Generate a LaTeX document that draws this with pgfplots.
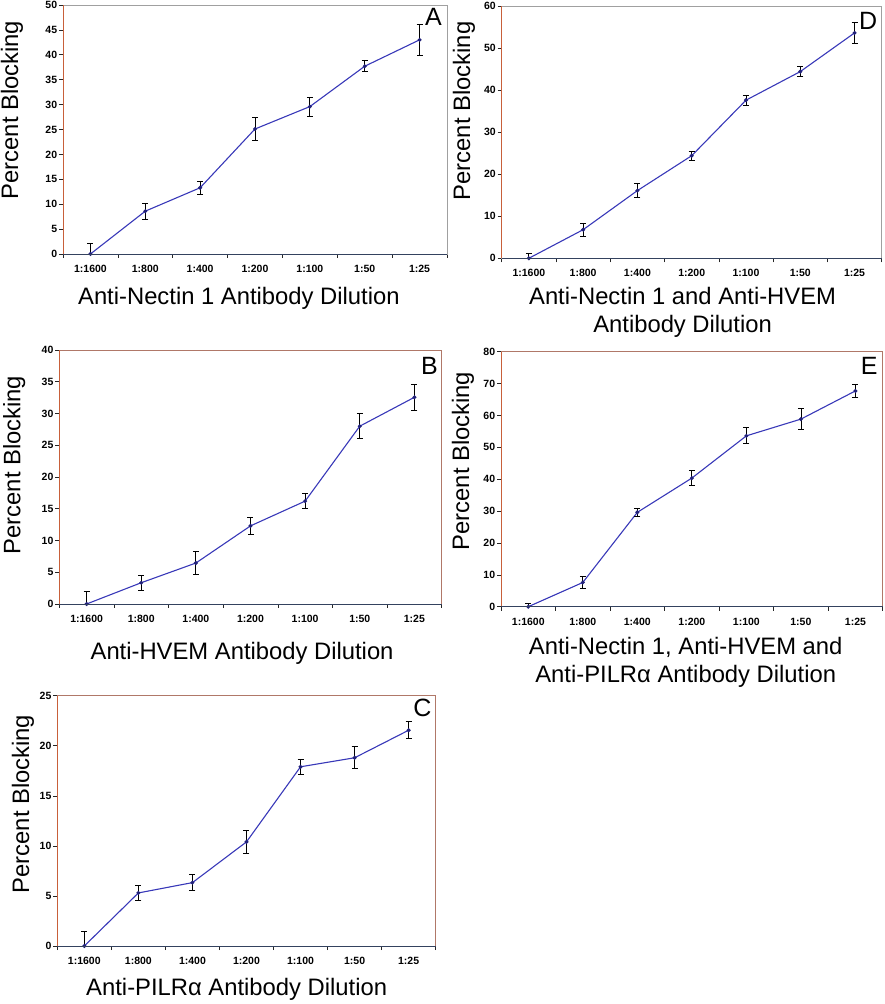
\documentclass[border=0pt]{standalone}
\usepackage{fontspec}
\setmainfont{Liberation Sans}
\usepackage{pgfplots}
\usepackage{pgfplotstable}
\pgfplotsset{compat=1.18}
\definecolor{linecol}{HTML}{3838B8}
\definecolor{markcol}{HTML}{22227A}
\definecolor{leftspine}{HTML}{C8603A}
\definecolor{botspine}{HTML}{34425E}
\definecolor{graybox}{HTML}{A0A0A0}
\definecolor{redbox}{HTML}{B07868}

\pgfplotstableread{
x y e
0 0 2.2
1 8.6 1.65
2 13.3 1.3
3 25.1 2.35
4 29.6 1.9
5 37.7 1.1
6 43.0 3.05
}\dataA
\pgfplotstableread{
x y e
0 0 1.2
1 6.8 1.55
2 16.1 1.7
3 24.4 1.1
4 37.6 1.15
5 44.4 1.2
6 53.6 2.5
}\dataD
\pgfplotstableread{
x y e
0 0 1.95
1 3.35 1.15
2 6.45 1.85
3 12.3 1.4
4 16.2 1.2
5 28.0 2.0
6 32.55 2.0
}\dataB
\pgfplotstableread{
x y e
0 0 1.05
1 7.6 2.0
2 29.6 1.2
3 40.35 2.35
4 53.6 2.5
5 58.85 3.25
6 67.7 2.0
}\dataE
\pgfplotstableread{
x y e
0 0 1.5
1 5.3 0.77
2 6.33 0.8
3 10.4 1.17
4 17.9 0.73
5 18.8 1.1
6 21.55 0.85
}\dataC

\tikzset{letter/.style={anchor=north east, inner sep=0pt, font=\fontsize{25}{25}\selectfont}}
\pgfplotsset{
  panel/.style={
    scale only axis, anchor=south west,
    xmin=-0.5, xmax=6.5, ymin=0,
    xtick={-0.5,0.5,...,6.5}, xticklabels={},
    extra x ticks={0,1,2,3,4,5,6},
    extra x tick labels={1:1600,1:800,1:400,1:200,1:100,1:50,1:25},
    extra x tick style={major tick length=0pt},
    tick align=outside, tick pos=left, major tick length=4pt,
    tick style={color=black!85, line width=0.6pt},
    /pgf/number format/assume math mode=true,
    ticklabel style={font=\bfseries\fontsize{10.5}{12}\selectfont, inner sep=0pt},
    xticklabel style={anchor=north, yshift=-11pt},
    yticklabel style={anchor=east, xshift=-1.7pt},
    xlabel style={anchor=north, inner sep=0pt, align=center,
      font=\fontsize{23.8}{28}\selectfont},
    ylabel style={anchor=center, inner sep=0pt,
      font=\fontsize{23.8}{28}\selectfont},
    ylabel={Percent Blocking},
    axis line style={line width=0.7pt},
    after end axis/.code={
      \draw[leftspine, line width=0.9pt] (rel axis cs:0,0) -- (rel axis cs:0,1);
      \draw[botspine, line width=0.9pt] (rel axis cs:0,0) -- (rel axis cs:1,0);
    },
  },
  series/.style={color=linecol, line width=1.1pt, mark=*, mark size=1.4pt,
    mark options={fill=markcol, draw=markcol},
    error bars/.cd, y dir=both, y explicit,
    error bar style={black, line width=0.8pt},
    error mark options={rotate=90, black, mark size=3pt, line width=0.8pt}},
}

\begin{document}
\begin{tikzpicture}
\useasboundingbox (0,0) rectangle (885pt,1004pt);

% Panel A
\begin{axis}[panel, at={(63pt,750pt)}, width=384pt, height=249pt,
  ymax=50, ytick={0,5,...,50}, axis line style={graybox},
  xlabel={Anti-Nectin 1 Antibody Dilution},
  xlabel style={at={(axis description cs:0.458,0)}, yshift=-33pt},
  ylabel style={at={(axis description cs:-0.133,0.578)}}]
\addplot[series] table[x=x, y=y, y error=e] {\dataA};
\node[letter] at (rel axis cs:1,1) [xshift=-5pt, yshift=-3pt] {A};
\end{axis}

% Panel D
\begin{axis}[panel, at={(501.7pt,745.7pt)}, width=380pt, height=252.3pt,
  ymax=60, ytick={0,10,...,60}, axis line style={graybox},
  xlabel={Anti-Nectin 1 and Anti-HVEM\\Antibody Dilution},
  xlabel style={at={(axis description cs:0.476,0)}, yshift=-29pt},
  ylabel style={at={(axis description cs:-0.099,0.584)}}]
\addplot[series] table[x=x, y=y, y error=e] {\dataD};
\node[letter] at (rel axis cs:1,1) [xshift=-4.4pt, yshift=-5.7pt] {D};
\end{axis}

% Panel B
\begin{axis}[panel, at={(59.3pt,400pt)}, width=382.4pt, height=254pt,
  ymax=40, ytick={0,5,...,40}, axis line style={redbox},
  xlabel={Anti-HVEM Antibody Dilution},
  xlabel style={at={(axis description cs:0.478,0)}, yshift=-38pt},
  ylabel style={at={(axis description cs:-0.118,0.547)}}]
\addplot[series] table[x=x, y=y, y error=e] {\dataB};
\node[letter] at (rel axis cs:1,1) [xshift=-3.7pt, yshift=-6.7pt] {B};
\end{axis}

% Panel E
\begin{axis}[panel, at={(501pt,397.3pt)}, width=381.7pt, height=255pt,
  ymax=80, ytick={0,10,...,80}, axis line style={redbox},
  xlabel={Anti-Nectin 1, Anti-HVEM and\\Anti-PILRα Antibody Dilution},
  xlabel style={at={(axis description cs:0.484,0)}, yshift=-30pt},
  ylabel style={at={(axis description cs:-0.0996,0.571)}}]
\addplot[series] table[x=x, y=y, y error=e] {\dataE};
\node[letter] at (rel axis cs:1,1) [xshift=-5pt, yshift=-5pt] {E};
\end{axis}

% Panel C
\begin{axis}[panel, at={(57.3pt,58pt)}, width=378.4pt, height=250.3pt,
  ymax=25, ytick={0,5,...,25}, axis line style={redbox},
  xlabel={Anti-PILRα Antibody Dilution},
  xlabel style={at={(axis description cs:0.474,0)}, yshift=-32pt},
  ylabel style={at={(axis description cs:-0.0906,0.567)}}]
\addplot[series] table[x=x, y=y, y error=e] {\dataC};
\node[letter] at (rel axis cs:1,1) [xshift=-4pt, yshift=-2.7pt] {C};
\end{axis}
\end{tikzpicture}
\end{document}
